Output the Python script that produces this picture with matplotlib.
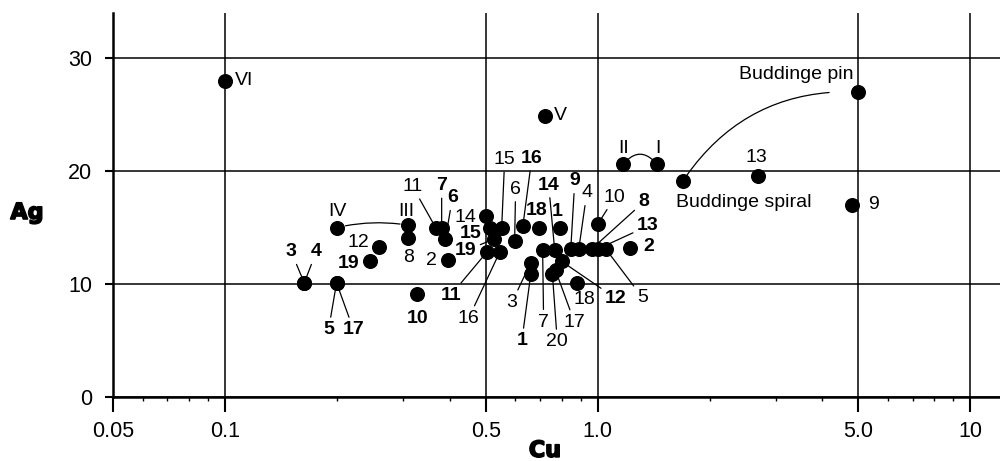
import matplotlib.pyplot as plt
import matplotlib.ticker as mticker
import matplotlib.patheffects as pe

plt.rcParams['font.family'] = ['Liberation Sans', 'DejaVu Sans']

# samples labelled in plain type
plain_labels = ["13", "9", "12", "8", "11", "2", "14", "15", "16", "6",
                "7", "3", "20", "17", "4", "18", "10", "5"]
plain_cu = [2.69, 4.82, 0.258, 0.31, 0.367, 0.395, 0.50, 0.552, 0.545, 0.598,
            0.711, 0.661, 0.755, 0.77, 0.889, 0.879, 1.0, 1.05]
plain_ag = [19.6, 17.0, 13.3, 14.1, 15.0, 12.1, 16.0, 15.0, 12.8, 13.8,
            13.0, 11.9, 10.9, 11.2, 13.1, 10.1, 15.3, 13.1]

# samples labelled in bold type
bold_labels = ["19", "3", "4", "5", "17", "10", "7", "6", "15", "19", "11",
               "16", "18", "1", "14", "1", "12", "9", "8", "13", "2"]
bold_cu = [0.244, 0.163, 0.163, 0.199, 0.199, 0.328, 0.381, 0.39, 0.515, 0.528, 0.503,
           0.629, 0.694, 0.79, 0.766, 0.661, 0.80, 0.846, 0.963, 1.0, 1.22]
bold_ag = [12.0, 10.1, 10.1, 10.1, 10.1, 9.1, 15.0, 14.0, 15.0, 14.0, 12.8,
           15.1, 15.0, 15.0, 13.0, 10.9, 12.0, 13.1, 13.1, 13.1, 13.2]

# named objects
named_labels = ["VI", "V", "IV", "III", "II", "I", "Buddinge spiral", "Buddinge pin"]
named_cu = [0.1, 0.72, 0.2, 0.31, 1.17, 1.44, 1.69, 5.0]
named_ag = [28.0, 24.9, 15.0, 15.2, 20.6, 20.6, 19.1, 27.0]

x_ticks = [0.05, 0.1, 0.5, 1.0, 5.0, 10]
x_ticklabels = ["0.05", "0.1", "0.5", "1.0", "5.0", "10"]
y_ticks = [0, 10, 20, 30]

# label placement (offset in pixels from the dot) and whether a leader line is drawn
plain_off = [(-2, 18), (21, 0), (-20, 4), (0, -20), (-23, 41), (-16, 0), (-20, -1),
             (3, 68), (-31, -66), (1, 52), (1, -72), (-19, -40), (5, -68), (19, -52),
             (8, 56), (7, -17), (17, 27), (37, -49)]
plain_leader = [0, 0, 0, 0, 1, 0, 0, 1, 1, 1, 1, 1, 1, 1, 1, 0, 1, 1]
bold_off = [(-21, -2), (-13, 31), (12, 31), (-8, -47), (17, -47), (0, -24), (0, 42),
            (7, 41), (-20, -6), (-29, -12), (-36, -43), (9, 68), (-2, 17), (-2, 16),
            (-6, 65), (-9, -67), (54, -37), (4, 68), (52, 47), (50, 23), (19, 1)]
bold_leader = [0, 1, 1, 1, 1, 0, 1, 1, 0, 1, 1, 1, 0, 0, 1, 1, 1, 1, 1, 1, 0]
named_off = [(19, 0), (16, 0), (0, 16), (-2, 14), (0, 16), (1, 16), (61, -21), (-62, 17)]

fig = plt.figure(figsize=(10, 4.61), dpi=100)
ax = fig.add_axes([0.113, 0.139, 0.887, 0.833])

ax.set_xscale("log")
ax.set_xlim(0.05, 12)
ax.set_ylim(0, 34)

ax.plot(plain_cu + bold_cu + named_cu, plain_ag + bold_ag + named_ag, "o",
        color="black", ms=9.8, zorder=3, clip_on=False)


def put_labels(labels, cu, ag, offs, leaders, weight):
    for lab, x, y, off, lead in zip(labels, cu, ag, offs, leaders):
        arrow = None
        if lead:
            arrow = dict(arrowstyle="-", lw=0.9, color="black", shrinkA=1, shrinkB=4)
        ax.annotate(lab, (x, y), xytext=off, textcoords="offset pixels",
                    ha="center", va="center", fontsize=14, fontweight=weight,
                    arrowprops=arrow, zorder=4)


put_labels(plain_labels, plain_cu, plain_ag, plain_off, plain_leader, "normal")
put_labels(bold_labels, bold_cu, bold_ag, bold_off, bold_leader, "bold")
put_labels(named_labels, named_cu, named_ag, named_off, [0] * len(named_labels), "normal")

# connecting arcs between paired objects
def link(i, j, rad, sa, sb):
    ax.annotate("", xy=(named_cu[j], named_ag[j]), xytext=(named_cu[i], named_ag[i]),
                arrowprops=dict(arrowstyle="-", lw=0.9, color="black",
                                connectionstyle=f"arc3,rad={rad}", shrinkA=sa, shrinkB=sb))


link(2, 3, -0.1, 6, 6)
link(4, 5, -0.6, 4, 4)
link(6, 7, -0.28, 5, 21)

ax.set_xticks(x_ticks)
ax.set_xticklabels(x_ticklabels)
ax.xaxis.set_minor_locator(mticker.LogLocator(base=10, subs=[2, 3, 4, 6, 7, 8, 9]))
ax.xaxis.set_minor_formatter(mticker.NullFormatter())
ax.set_yticks(y_ticks)

ax.grid(True, which="major", color="black", lw=1.1, zorder=1)
ax.set_axisbelow(True)
for s in ["top", "right"]:
    ax.spines[s].set_visible(False)
for s in ["left", "bottom"]:
    ax.spines[s].set_linewidth(1.8)

ax.tick_params(axis="x", which="major", direction="out", length=11, width=1.5,
               pad=6, labelsize=15.5)
ax.tick_params(axis="x", which="minor", direction="out", length=3, width=1)
ax.tick_params(axis="y", which="major", direction="out", length=6, width=1.5,
               pad=9, labelsize=15.5)

heavy = [pe.withStroke(linewidth=1.2, foreground="black")]
fig.text(0.027, 0.538, "Ag", family="DejaVu Sans", fontweight="bold", fontsize=16,
         ha="center", va="center", path_effects=heavy)
fig.text(0.545, 0.022, "Cu", family="DejaVu Sans", fontweight="bold", fontsize=16,
         ha="center", va="center", path_effects=heavy)

fig.savefig("out.png", dpi=100)
